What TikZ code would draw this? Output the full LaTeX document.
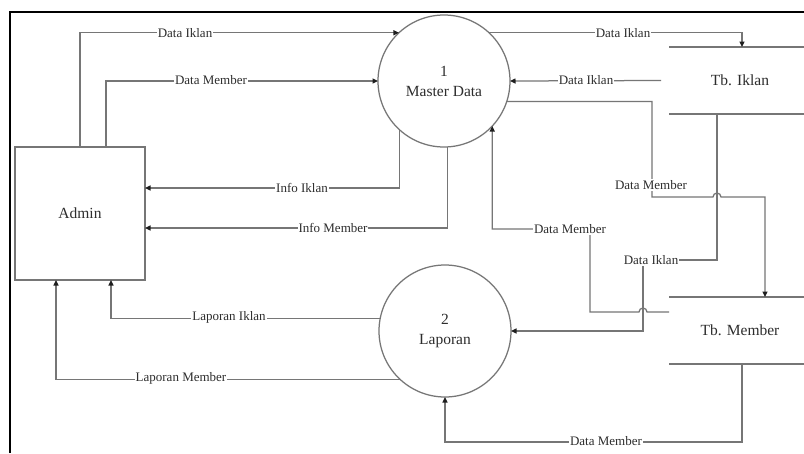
\documentclass[tikz,border=0pt]{standalone}
\usepackage{fontspec}
\setmainfont{Liberation Serif}
\usetikzlibrary{arrows.meta}
\definecolor{lineg}{RGB}{118,118,118}
\definecolor{textg}{RGB}{45,45,45}
\definecolor{tipg}{RGB}{30,30,30}
\begin{document}
\begin{tikzpicture}[x=1pt,y=-1pt,
  flow/.style={draw=lineg,line width=1.25pt,-{Triangle[length=5.5pt,width=5pt,color=tipg]}},
  plain/.style={draw=lineg,line width=1.25pt},
  lbl/.style={fill=white,inner sep=1pt,text=textg,font=\fontsize{13}{15}\selectfont},
  proc/.style={circle,draw=lineg,line width=1.25pt,minimum size=132pt,inner sep=0pt,outer sep=0pt,align=center,text=textg,font=\fontsize{15.5}{20}\selectfont},
  entity/.style={rectangle,draw=lineg,line width=1.25pt,minimum width=130pt,minimum height=133pt,inner sep=0pt,outer sep=0pt,text=textg,font=\fontsize{15.5}{19}\selectfont},
  store/.style={rectangle,draw=none,minimum width=142pt,minimum height=67pt,inner sep=0pt,outer sep=0pt,text=textg,font=\fontsize{15.5}{19}\selectfont}]
\path[use as bounding box] (0,0) rectangle (804,453);
\path[fill=white,draw=none] (0,0) rectangle (804,453);
\draw[black,line width=2.6pt] (10,453) -- (10,12) -- (804,12);
\node[entity] (admin) at (80,213.5) {Admin};
\node[proc] (p1) at (444,81) {1\\Master Data};
\node[proc] (p2) at (445,331) {2\\Laporan};
\node[store] (tbiklan) at (740,80.5) {Tb. Iklan};
\node[store] (tbmember) at (740,330.5) {Tb. Member};
\draw[plain] (tbiklan.north west) -- (tbiklan.north west -| tbiklan.north east);
\draw[plain] (tbiklan.south west) -- (tbiklan.south west -| tbiklan.south east);
\draw[plain] (tbmember.north west) -- (tbmember.north west -| tbmember.north east);
\draw[plain] (tbmember.south west) -- (tbmember.south west -| tbmember.south east);
\coordinate (dm1) at (652,197);
\coordinate (hop1) at (717,197);
\coordinate (di1) at (643,260);
\coordinate (hop2) at (643,312);
\coordinate (dm2) at (590,229);
\draw[flow] (admin.north) |- (p1.133);
\draw[flow] ([xshift=26pt]admin.north) |- (p1.west);
\draw[flow] (p1.228) |- ([yshift=25.5pt]admin.east);
\draw[flow] (p1.-87) |- ([yshift=-14.5pt]admin.east);
\draw[flow] (p2.169) -| ([xshift=31pt]admin.south);
\draw[flow] (p2.227) -| ([xshift=-24pt]admin.south);
\draw[flow] (p1.47) -| ([xshift=2pt]tbiklan.north);
\draw[flow] ([xshift=-8pt]tbiklan.west) -- (p1.east);
\draw[flow] (p1.-18) -| (dm1) -- ([xshift=-4pt]hop1) arc[start angle=180,end angle=360,radius=4] -| ([xshift=25pt]tbmember.north);
\draw[flow] ([xshift=-23pt]tbiklan.south) |- (di1) |- (p2.east);
\draw[flow] ([yshift=18.5pt]tbmember.west) -- ([xshift=4pt]hop2) arc[start angle=0,end angle=-180,radius=4] -| (dm2) -| (p1.-43);
\draw[flow] ([xshift=2pt]tbmember.south) |- ([yshift=-45pt]p2.south) -- (p2.south);
\node[lbl] (l1) at (185,33) {Data Iklan};
\node[lbl] (l2) at (211,80) {Data Member};
\node[lbl] (l3) at (302,188) {Info Iklan};
\node[lbl] (l4) at (333,228) {Info Member};
\node[lbl] (l5) at (229,317) {Laporan Iklan};
\node[lbl] (l6) at (181,378) {Laporan Member};
\node[lbl] (l7) at (623,33) {Data Iklan};
\node[lbl] (l8) at (586,80) {Data Iklan};
\node[lbl] (l9) at (651,185) {Data Member};
\node[lbl] (l10) at (651,260) {Data Iklan};
\node[lbl] (l11) at (570,229) {Data Member};
\node[lbl] (l12) at (606,441) {Data Member};
\end{tikzpicture}
\end{document}
